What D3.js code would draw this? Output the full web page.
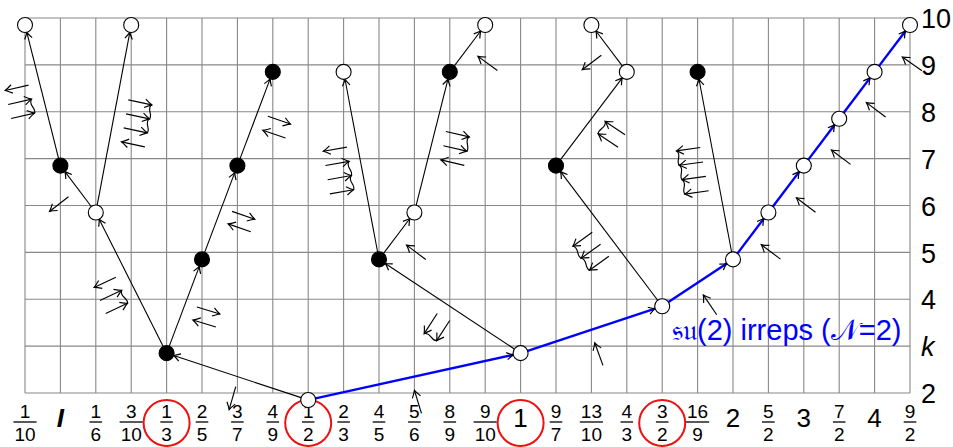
<!DOCTYPE html>
<html><head><meta charset="utf-8">
<script src="https://cdn.jsdelivr.net/npm/d3@7"></script>
<style>body{margin:0;background:#fff} svg{display:block}</style>
</head><body>
<svg id="c" width="953" height="447"></svg>
<script>
// ---------- data ----------
const categories = ["1/10","I","1/6","3/10","1/3","2/5","3/7","4/9","1/2","2/3","4/5","5/6","8/9","9/10","1","9/7","13/10","4/3","3/2","16/9","2","5/2","3","7/2","4","9/2"];
const nodeK      = [10,7,6,10,3,5,7,9,2,9,5,6,9,10,3,7,10,9,4,9,5,6,7,8,9,10];
const nodeFilled = [0,1,0,0,1,1,1,1,0,0,1,0,1,0,0,1,0,0,0,1,0,0,0,0,0,0];
const edgeFrom = ["1/2","1/3","1/6","I","1/6","1/3","2/5","3/7","1","4/5","4/5","5/6","8/9","3/2","9/7","4/3","2"];
const edgeTo   = ["1/3","1/6","I","1/10","3/10","2/5","3/7","4/9","4/5","2/3","5/6","8/9","9/10","9/7","4/3","13/10","16/9"];
const bluePath = ["1/2","1","3/2","2","5/2","3","7/2","4","9/2"];
const circledLabels = ["1/3","1/2","1","3/2"];
const kTicks = [2,3,4,5,6,7,8,9,10];
const kTickLabels = ["2","k","4","5","6","7","8","9","10"];
const seriesLabel = "\u{1D530}\u{1D532}(2) irreps (\u{1D4A9}=2)";

// small arrow-glyph annotations (column index, k, axis angle, arrow directions, stacking)
const glyphCol   = [-0.23,0.96,3.25,2.26,5.18,6.17,7.18,5.86,11.10,8.76,12.22,13.07,11.05,11.46,16.21,15.75,16.67,16.01,18.74,19.35,21.07,22.06,23.05,24.04,25.06];
const glyphK     = [8.66,6.18,8.35,4.51,3.91,5.94,7.97,2.04,1.96,7.35,7.67,9.18,5.15,3.63,2.98,5.43,7.80,9.20,7.35,4.03,5.16,6.16,7.18,8.19,9.17];
const glyphAngle = [-13,142,12,-25,17,19,19,106,-107,-10,13,-144,-143,123,-110,144,-146,143,-8,-124,-143,-143,-143,-143,-145];
const glyphDirs  = ["<>>",">",">>><","<>>","><","><","><",">",">","<>>>",">><",">",">",">>",">",">>>",">>",">","<<<<",">",">",">",">",">",">"];
const glyphStep  = [[3,14],[0,0],[-2.3,14],[5.8,13],[-4,13],[-4,12.5],[-5,14],[0,0],[0,0],[2.2,14.2],[-2.5,14.2],[0,0],[0,0],[12.5,7],[0,0],[8.3,12],[-7,12.5],[0,0],[2.8,14.4],[0,0],[0,0],[0,0],[0,0],[0,0],[0,0]];

// ---------- setup ----------
const svg = d3.select("#c");
const FONT = "'Liberation Sans', Arial, Helvetica, sans-serif";
const x  = d3.scalePoint().domain(categories).range([25, 910]);
const xc = d3.scaleLinear().domain([0, categories.length - 1]).range([25, 910]);
const y  = d3.scaleLinear().domain([2, 10]).range([400, 25]);
const gridShift = 0.15;
const yGrid = k => y(k + gridShift);
const R = 7.5;
const kOf = {}; categories.forEach((c, i) => kOf[c] = nodeK[i]);
const P = c => [x(c), y(kOf[c])];

// grid
const grid = svg.append("g").attr("stroke", "#888").attr("stroke-width", 1.1);
grid.selectAll("line.v").data(categories).join("line")
  .attr("x1", d => x(d)).attr("x2", d => x(d))
  .attr("y1", yGrid(10)).attr("y2", yGrid(2));
grid.selectAll("line.h").data(kTicks).join("line")
  .attr("x1", x(categories[0])).attr("x2", x(categories[categories.length - 1]))
  .attr("y1", d => yGrid(d)).attr("y2", d => yGrid(d));

// x labels
const xl = svg.append("g").attr("font-family", FONT).attr("fill", "#000");
categories.forEach(c => {
  const g = xl.append("g").attr("transform", `translate(${x(c)},0)`);
  if (c.includes("/")) {
    const [n, d] = c.split("/");
    const t1 = g.append("text").attr("y", 418).attr("text-anchor", "middle").attr("font-size", 19).text(n);
    const t2 = g.append("text").attr("y", 441).attr("text-anchor", "middle").attr("font-size", 19).text(d);
    const w = Math.max(t1.node().getComputedTextLength(), t2.node().getComputedTextLength()) + 2;
    g.append("line").attr("x1", -w / 2).attr("x2", w / 2).attr("y1", 422).attr("y2", 422)
      .attr("stroke", "#000").attr("stroke-width", 1.3);
  } else if (c === "I") {
    g.append("text").attr("y", 427).attr("text-anchor", "middle").attr("font-size", 26)
      .attr("font-style", "italic").attr("font-weight", "bold").text(c);
  } else {
    g.append("text").attr("y", 427).attr("text-anchor", "middle").attr("font-size", 26).text(c);
  }
});
svg.append("g").selectAll("circle").data(circledLabels).join("circle")
  .attr("cx", d => x(d)).attr("cy", 423).attr("r", 23)
  .attr("fill", "none").attr("stroke", "#ee1111").attr("stroke-width", 2);

// arrowhead path
function headPath(tip, u, L, W) {
  const n = [-u[1], u[0]];
  const b1 = [tip[0] - u[0] * L + n[0] * W, tip[1] - u[1] * L + n[1] * W];
  const b2 = [tip[0] - u[0] * L - n[0] * W, tip[1] - u[1] * L - n[1] * W];
  const c1 = [tip[0] - u[0] * L * 0.35 + n[0] * W * 0.25, tip[1] - u[1] * L * 0.35 + n[1] * W * 0.25];
  const c2 = [tip[0] - u[0] * L * 0.35 - n[0] * W * 0.25, tip[1] - u[1] * L * 0.35 - n[1] * W * 0.25];
  return `M${b1}Q${c1} ${tip}Q${c2} ${b2}`;
}
function seg(a, b) {
  const pa = P(a), pb = P(b);
  const dx = pb[0] - pa[0], dy = pb[1] - pa[1], len = Math.hypot(dx, dy);
  const u = [dx / len, dy / len];
  return { s: [pa[0] + u[0] * R, pa[1] + u[1] * R], e: [pb[0] - u[0] * R, pb[1] - u[1] * R], u };
}

// black edges
const eg = svg.append("g");
edgeFrom.forEach((f, i) => {
  const s = seg(f, edgeTo[i]);
  eg.append("line").attr("x1", s.s[0]).attr("y1", s.s[1]).attr("x2", s.e[0]).attr("y2", s.e[1])
    .attr("stroke", "#000").attr("stroke-width", 1.1);
  eg.append("path").attr("d", headPath(s.e, s.u, 6.5, 3.8)).attr("fill", "none")
    .attr("stroke", "#000").attr("stroke-width", 1.2);
});
// blue path
const bg = svg.append("g");
for (let i = 0; i < bluePath.length - 1; i++) {
  const s = seg(bluePath[i], bluePath[i + 1]);
  bg.append("line").attr("x1", s.s[0]).attr("y1", s.s[1]).attr("x2", s.e[0]).attr("y2", s.e[1])
    .attr("stroke", "#0000ff").attr("stroke-width", 2.4);
  bg.append("path").attr("d", headPath(s.e, s.u, 6.5, 3.6)).attr("fill", "none")
    .attr("stroke", "#000").attr("stroke-width", 1.2);
}

// glyph annotations
const gg = svg.append("g").attr("fill", "none").attr("stroke", "#000").attr("stroke-width", 1.15);
const GL = 24;
glyphCol.forEach((col, i) => {
  const cx0 = xc(col), cy0 = y(glyphK[i]);
  const th = glyphAngle[i] * Math.PI / 180;
  const a = [Math.cos(th), Math.sin(th)];
  const dirs = glyphDirs[i].split("");
  const st = glyphStep[i];
  const heads = [];
  dirs.forEach((d, j) => {
    const c = [cx0 + st[0] * j, cy0 + st[1] * j];
    const u = d === ">" ? a : [-a[0], -a[1]];
    const tail = [c[0] - u[0] * GL / 2, c[1] - u[1] * GL / 2];
    const tip = [c[0] + u[0] * GL / 2, c[1] + u[1] * GL / 2];
    gg.append("line").attr("x1", tail[0]).attr("y1", tail[1]).attr("x2", tip[0]).attr("y2", tip[1]);
    gg.append("path").attr("d", headPath(tip, u, 7, 4.3));
    heads.push({ tip, u, d });
  });
  for (let j = 0; j < heads.length - 1; j++) {
    if (heads[j].d !== heads[j + 1].d) continue;
    const h1 = heads[j].tip, h2 = heads[j + 1].tip, u = heads[j].u;
    const sx = h2[0] - h1[0], sy = h2[1] - h1[1];
    const c1 = [h1[0] - u[0] * 5 + sx * 0.33, h1[1] - u[1] * 5 + sy * 0.33];
    const c2 = [h2[0] + u[0] * 3 - sx * 0.33, h2[1] + u[1] * 3 - sy * 0.33];
    gg.append("path").attr("d", `M${h1}C${c1} ${c2} ${h2}`);
  }
});

// nodes
svg.append("g").selectAll("circle").data(categories).join("circle")
  .attr("cx", d => x(d)).attr("cy", (d, i) => y(nodeK[i])).attr("r", R)
  .attr("fill", (d, i) => nodeFilled[i] ? "#000" : "#fff")
  .attr("stroke", "#000").attr("stroke-width", 1.1);

// right axis labels
const yAxis = d3.axisRight(d3.scaleLinear().domain([2 + gridShift, 10 + gridShift]).range([y(2 + gridShift), y(10 + gridShift)]))
  .tickValues(kTicks.map(k => k + gridShift))
  .tickFormat((d, i) => kTickLabels[i]).tickSize(0).tickPadding(0);
const ya = svg.append("g").attr("transform", "translate(921,0)").call(yAxis);
ya.select(".domain").remove();
ya.selectAll("text").attr("font-family", FONT).attr("font-size", 27).attr("fill", "#000").attr("dy", "0.36em")
  .attr("font-style", (d, i) => kTickLabels[i] === "k" ? "italic" : null);

// series label
svg.append("text").attr("x", 672).attr("y", 340).attr("font-family", FONT).attr("font-size", 29)
  .attr("fill", "#0000ff").text(seriesLabel);
</script>
</body></html>
